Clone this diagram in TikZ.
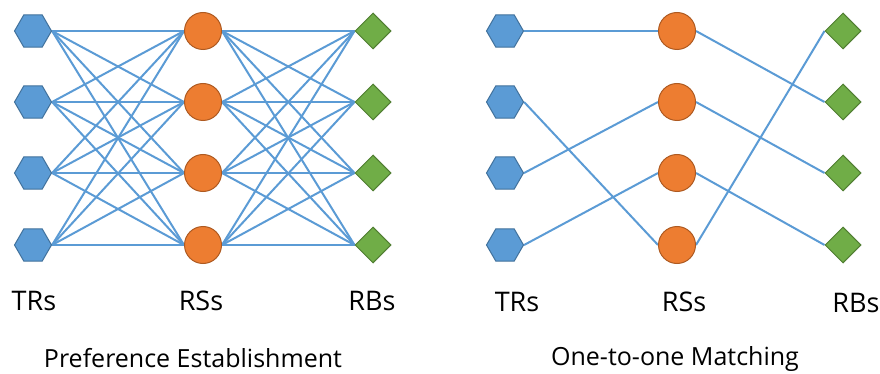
\documentclass[tikz,border=0pt]{standalone}
\usepackage{fontspec}
\setmainfont{Open Sans}
\usetikzlibrary{shapes.geometric,backgrounds}
\definecolor{hexfill}{HTML}{5B9BD5}
\definecolor{hexdraw}{HTML}{41719C}
\definecolor{rsfill}{HTML}{ED7D31}
\definecolor{rsdraw}{HTML}{AE5A21}
\definecolor{rbfill}{HTML}{70AD47}
\definecolor{rbdraw}{HTML}{507E32}
\definecolor{edgecol}{HTML}{5B9BD5}
\begin{document}
\begin{tikzpicture}[x=1pt,y=-1pt,
  trnode/.style={regular polygon,regular polygon sides=6,minimum size=37pt,inner sep=0pt,fill=hexfill,draw=hexdraw,line width=1pt},
  rsnode/.style={circle,minimum size=37pt,inner sep=0pt,fill=rsfill,draw=rsdraw,line width=1pt},
  rbnode/.style={diamond,minimum width=36pt,minimum height=36pt,inner sep=0pt,fill=rbfill,draw=rbdraw,line width=1pt},
  link/.style={draw=edgecol,line width=2pt},
  lbl/.style={anchor=base,inner sep=0pt,font=\fontsize{27}{30}\selectfont},
  ttl/.style={anchor=base,inner sep=0pt,font=\fontsize{25}{28}\selectfont}]
\useasboundingbox (0,0) rectangle (880,374);
% left panel
\foreach \i/\y in {1/31,2/102,3/173,4/245}{
  \node[trnode] (lt\i) at (33,\y) {};
  \node[rsnode] (ls\i) at (203,\y) {};
  \node[rbnode] (lb\i) at (373,\y) {};
}
% right panel
\foreach \i/\y in {1/31,2/102,3/173,4/245}{
  \node[trnode] (rt\i) at (505,\y) {};
  \node[rsnode] (rs\i) at (677,\y) {};
  \node[rbnode] (rb\i) at (843,\y) {};
}
\begin{scope}[on background layer]
  \foreach \i in {1,...,4}{
    \foreach \j in {1,...,4}{
      \draw[link] (lt\i.east) -- (ls\j.west);
      \draw[link] (ls\i.east) -- (lb\j.west);
    }
  }
  \draw[link] (rt1.east) -- (rs1.west);
  \draw[link] (rt2.east) -- (rs4.west);
  \draw[link] (rt3.east) -- (rs2.west);
  \draw[link] (rt4.east) -- (rs3.west);
  \draw[link] (rs1.east) -- (rb2.west);
  \draw[link] (rs2.east) -- (rb3.west);
  \draw[link] (rs3.east) -- (rb4.west);
  \draw[link] (rs4.east) -- (rb1.west);
\end{scope}
% labels
\node[lbl] (l1) at (34,310) {TRs};
\node[lbl] (l2) at (201,310) {RSs};
\node[lbl] (l3) at (372,310) {RBs};
\node[lbl] (r1) at (517,311) {TRs};
\node[lbl] (r2) at (684,311) {RSs};
\node[lbl] (r3) at (856,312) {RBs};
\node[ttl] (t1) at (193,367) {Preference Establishment};
\node[ttl] (t2) at (675,365) {One-to-one Matching};
\end{tikzpicture}
\end{document}
